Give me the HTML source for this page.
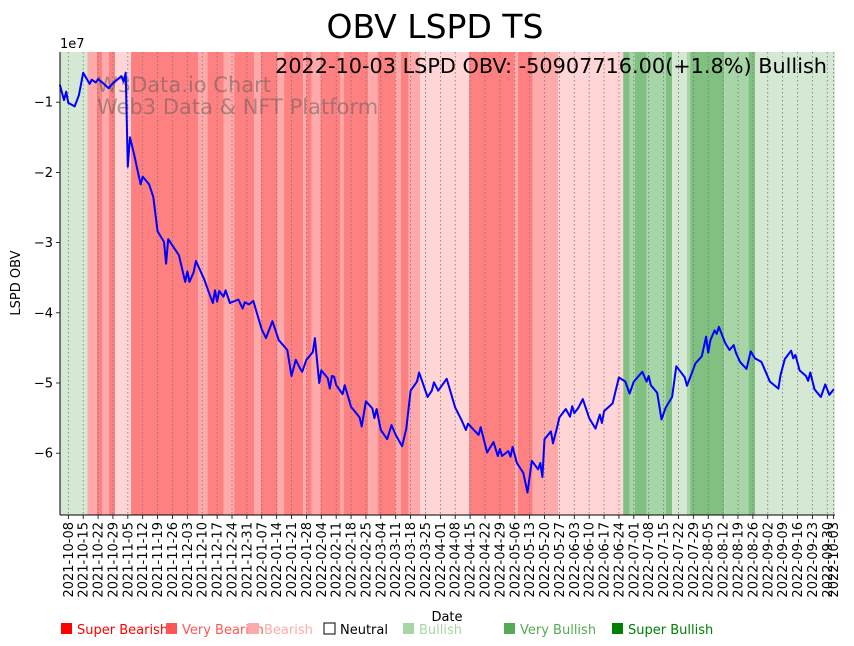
<!DOCTYPE html>
<html><head><meta charset="utf-8"><style>
html,body{margin:0;padding:0;background:#fff;}
svg{display:block;font-family:"DejaVu Sans","Liberation Sans",sans-serif;}
</style></head><body>
<svg id="chart" width="854" height="646" viewBox="0 0 854 646">
<text x="435" y="38" font-size="33" text-anchor="middle">OBV LSPD TS</text>
<g id="bands"></g>
<g id="grid"></g>
<text x="97" y="92" font-size="21" fill="rgba(90,90,90,0.5)">W3Data.io Chart</text>
<text x="97" y="114" font-size="21" fill="rgba(90,90,90,0.5)">Web3 Data &amp; NFT Platform</text>
<path id="obvline" fill="none" stroke="#0000ff" stroke-width="2" stroke-linejoin="round"></path>
<text x="827" y="73" font-size="20.8" text-anchor="end">2022-10-03 LSPD OBV: -50907716.00(+1.8%) Bullish</text>
<line x1="60" y1="52" x2="60" y2="515" stroke="#000" stroke-width="1"/>
<line x1="60" y1="515" x2="835" y2="515" stroke="#000" stroke-width="1"/>
<g id="yticks"></g>
<g id="xticks"></g>
<text x="60" y="48" font-size="13">1e7</text>
<text x="20" y="283" font-size="13" text-anchor="middle" transform="rotate(-90 20 283)">LSPD OBV</text>
<text x="447" y="621" font-size="13" text-anchor="middle">Date</text>
<g id="legend"></g>
</svg>
<script>
const obvDays = [-4,-2,-1,0,3,5,7,10,11,13,14,16,19,21,23,25,26,27,28,29,31,34,35,38,40,42,45,46,47,52,55,56,57,59,60,64,66,68,69,70,71,73,74,76,80,82,83,85,87,91,93,96,99,103,105,107,109,110,112,115,116,118,119,122,123,124,125,126,129,130,133,137,138,140,143,144,145,147,150,152,154,157,159,161,164,165,169,171,172,174,178,182,185,187,188,193,194,197,200,202,203,204,207,208,209,211,214,216,218,221,222,223,224,227,228,230,231,234,236,237,238,240,242,245,248,250,251,252,256,259,262,264,266,270,272,273,274,277,279,281,284,286,288,290,291,295,298,300,301,302,304,305,306,309,311,313,314,316,319,321,323,326,330,334,335,337,340,341,342,344,347,348,349,351,354,356,358,360];
const obvValues = [-0.75,-0.97,-0.85,-1.01,-1.06,-0.90,-0.58,-0.74,-0.68,-0.72,-0.67,-0.72,-0.80,-0.73,-0.68,-0.63,-0.71,-0.58,-1.92,-1.50,-1.75,-2.17,-2.06,-2.17,-2.35,-2.84,-2.99,-3.30,-2.95,-3.18,-3.56,-3.41,-3.56,-3.42,-3.26,-3.53,-3.70,-3.86,-3.68,-3.84,-3.69,-3.77,-3.68,-3.86,-3.81,-3.94,-3.85,-3.88,-3.83,-4.24,-4.36,-4.12,-4.39,-4.53,-4.90,-4.67,-4.79,-4.84,-4.67,-4.56,-4.36,-5.00,-4.82,-4.93,-5.08,-4.90,-4.91,-5.03,-5.16,-5.03,-5.34,-5.49,-5.62,-5.26,-5.36,-5.50,-5.37,-5.67,-5.80,-5.60,-5.74,-5.90,-5.65,-5.11,-4.98,-4.85,-5.20,-5.11,-4.99,-5.11,-4.94,-5.35,-5.53,-5.67,-5.58,-5.74,-5.63,-5.99,-5.84,-6.04,-5.94,-6.04,-5.97,-6.05,-5.91,-6.14,-6.28,-6.56,-6.11,-6.23,-6.14,-6.34,-5.80,-5.69,-5.86,-5.62,-5.49,-5.37,-5.48,-5.33,-5.43,-5.35,-5.23,-5.50,-5.65,-5.45,-5.57,-5.40,-5.29,-4.92,-4.98,-5.15,-4.98,-4.84,-4.98,-4.90,-5.03,-5.14,-5.52,-5.35,-5.20,-4.76,-4.84,-4.92,-5.04,-4.72,-4.62,-4.34,-4.57,-4.39,-4.25,-4.30,-4.20,-4.43,-4.53,-4.46,-4.57,-4.70,-4.80,-4.55,-4.65,-4.70,-4.98,-5.08,-4.89,-4.66,-4.54,-4.65,-4.60,-4.82,-4.90,-4.97,-4.85,-5.09,-5.20,-5.02,-5.17,-5.09];
const bandStarts = [-4,9,13.5,16,19,22,29.5,61,65.5,73,78,87.5,90.5,98.5,101.5,110.5,112,114.5,118.5,128,129.5,141,145.5,154,156.5,160,165.5,188.5,210,211.5,218.5,230.5,261,264,266.5,272,281,284,291,292.5,308.5,320,323];
const bandEnds   = [9,13.5,16,19,22,29.5,61,65.5,73,78,87.5,90.5,98.5,101.5,110.5,112,114.5,118.5,128,129.5,141,145.5,154,156.5,160,165.5,188.5,210,211.5,218.5,230.5,261,264,266.5,272,281,284,291,292.5,308.5,320,323,361];
const bandCats   = ["bullish","bearish","verybear","bearish","verybear","neutralbear","verybear","bearish","verybear","bearish","verybear","bearish","verybear","bearish","verybear","bearish","verybear","bearish","verybear","bearish","verybear","bearish","verybear","bearish","verybear","bearish","neutralbear","verybear","bearish","verybear","bearish","neutralbear","verybull","bull","verybull","bull","verybull","lightbull","bull","verybull","bull","verybull","lightbull"];
const yTicks = [-1,-2,-3,-4,-5,-6];
const legendLabels = ["Super Bearish","Very Bearish","Bearish","Neutral","Bullish","Very Bullish","Super Bullish"];
const legendColors = ["#ff0000","#ff5555","#ffaaaa","#000000","#a8d5a8","#55aa55","#008000"];
const legendX = [60,165,247,323,402,503,611];
const tickStart = new Date(Date.UTC(2021,9,8));
const tickLabels = [];
for (let k = 0; k <= 51; k++) { const d = new Date(tickStart.getTime() + k*7*86400000); tickLabels.push(d.toISOString().slice(0,10)); }
tickLabels.push("2022-10-03");

const NS = "http://www.w3.org/2000/svg";
const X0 = 68.3, PXD = 2.126;
function xs(day){ return X0 + day*PXD; }
function ys(v){ return 32 - v*70.2; }
function dayOf(label){ return Math.round((Date.parse(label) - tickStart.getTime())/86400000); }
const bandColor = {verybear:"#ff8080", bearish:"#ffaaaa", neutralbear:"#ffd5d5", lightbull:"#d5e8d4", bull:"#a8d5a8", verybull:"#80c080", bullish:"#d5e8d4"};
function mk(tag, attrs, parent){ const e = document.createElementNS(NS, tag); for (const k in attrs) e.setAttribute(k, attrs[k]); parent.appendChild(e); return e; }

const bands = document.getElementById("bands");
for (let i = 0; i < bandCats.length; i++) {
  const a = Math.max(60, xs(bandStarts[i])), b = Math.min(835, xs(bandEnds[i]));
  const r = mk("rect", {x:a, y:52, width:Math.max(0,b-a), height:463, fill:bandColor[bandCats[i]]}, bands);
  
  
}
const grid = document.getElementById("grid");
const xt = document.getElementById("xticks");
tickLabels.forEach(lbl => {
  const x = xs(dayOf(lbl));
  const g = mk("line", {x1:x, y1:52, x2:x, y2:515, stroke:"#777", "stroke-width":0.8, "stroke-dasharray":"1.5,2.5"}, grid);
  
  
  const t = mk("line", {x1:x, y1:515, x2:x, y2:519, stroke:"#000", "stroke-width":0.8}, xt);
  
  
  const tx = mk("text", {x:x+4.5, y:522, "font-size":13, "text-anchor":"end", transform:`rotate(-90 ${x+4.5} 522)`}, xt);
  tx.textContent = lbl;
  
  
});
const yt = document.getElementById("yticks");
yTicks.forEach(v => {
  const y = ys(v);
  const l = mk("line", {x1:56, y1:y, x2:60, y2:y, stroke:"#000", "stroke-width":0.8}, yt);
  
  
  const t = mk("text", {x:53, y:y+4.5, "font-size":13, "text-anchor":"end"}, yt);
  t.textContent = "\u2212" + Math.abs(v);
  
  
});
let d = "";
obvDays.forEach((dy, i) => { d += (i ? "L" : "M") + xs(dy).toFixed(1) + "," + ys(obvValues[i]).toFixed(1); });
document.getElementById("obvline").setAttribute("d", d);
const lg = document.getElementById("legend");
legendLabels.forEach((lbl, i) => {
  const x = legendX[i];
  const sq = mk("rect", {x:x+1, y:623, width:11, height:11, fill: lbl==="Neutral" ? "#fff" : legendColors[i], stroke: lbl==="Neutral" ? "#000" : "none"}, lg);
  
  
  const t = mk("text", {x:x+17, y:634, "font-size":13, fill:legendColors[i]}, lg);
  t.textContent = lbl;
  
  
});
</script>
</body></html>
